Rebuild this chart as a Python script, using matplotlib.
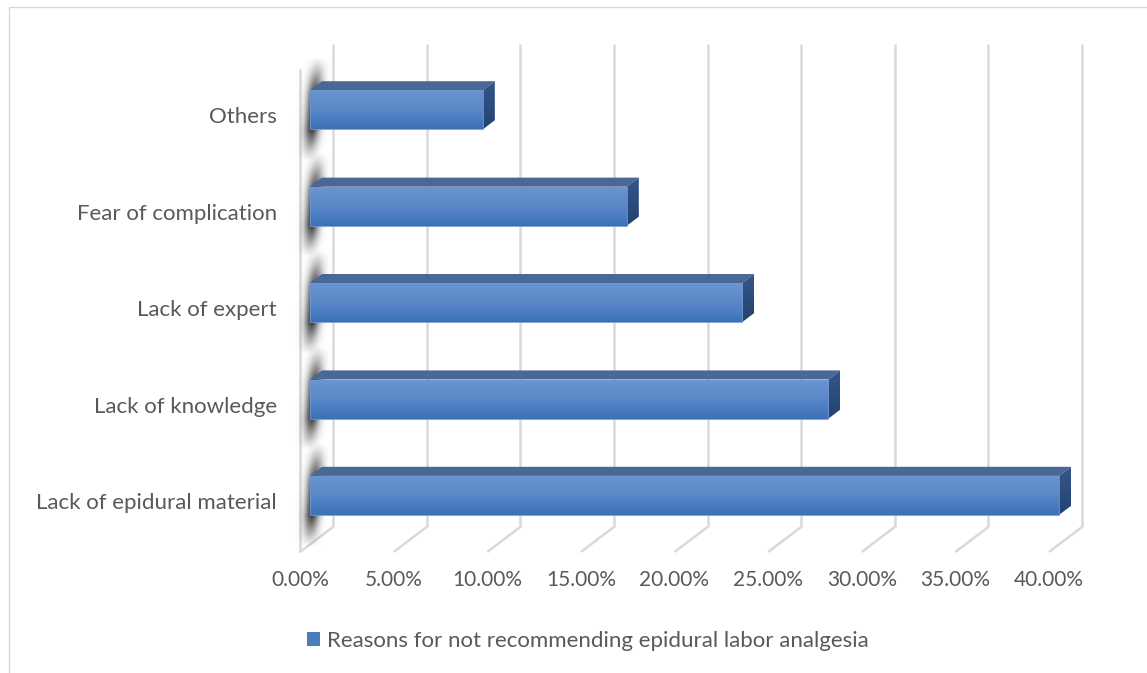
import matplotlib
matplotlib.use("Agg")
import matplotlib.pyplot as plt
import numpy as np
from matplotlib.patches import Polygon, Patch, Rectangle
from matplotlib.colors import LinearSegmentedColormap

# data, bottom bar first
categories = ["Lack of epidural material", "Lack of knowledge", "Lack of expert",
              "Fear of complication", "Others"]
shares = [40.00, 27.69, 23.08, 16.92, 9.23]
ticks = [0, 5, 10, 15, 20, 25, 30, 35, 40]
tick_labels = ["0.00%", "5.00%", "10.00%", "15.00%", "20.00%",
               "25.00%", "30.00%", "35.00%", "40.00%"]
series_name = "Reasons for not recommending epidural labor analgesia"

W, H = 1147, 673
PX_X = 18.725          # pixels per percentage point
PX_Y = 96.4            # pixels between categories
X0_PX, Y0_PX = 300, 503  # pixel of (0 %, first category) on the front plane

# oblique 3-D: full depth of the plot box, as a shift in data units
DX = 33 / PX_X
DY = 25 / PX_Y
FLOOR, TOP = -0.508, 4.502
BAR_T0, BAR_T1 = 10 / 33, 22 / 33
HALF = 0.2025

TEXT = "#595959"
GRID = "#d9d9d9"
plt.rcParams["font.family"] = ["Lato", "DejaVu Sans"]


def proj(v, y, t):
    return v + t * DX, y + t * DY


fig = plt.figure(figsize=(W / 100, H / 100), dpi=100)
ax = fig.add_axes([0, 0, 1, 1])
ax.axis("off")

# chart area border
fig.add_artist(Rectangle((9 / W, -0.1), 1.2, 1.1 - 7 / H, transform=fig.transFigure,
                         fill=False, edgecolor=GRID, linewidth=1.0))

# back wall gridlines and floor lines
for t in ticks:
    xb, yb = proj(t, FLOOR, 1)
    xt, yt = proj(t, TOP, 1)
    ax.plot([xb, xt], [yb, yt], color=GRID, lw=1.8, solid_capstyle="butt", zorder=1)
    xf, yf = proj(t, FLOOR, 0)
    ax.plot([xf, xb], [yf, yb], color=GRID, lw=1.8, solid_capstyle="butt", zorder=1)
# front edge of the side wall
xf0, yf0 = proj(0, FLOOR, 0)
xt0, yt0 = proj(0, TOP, 0)
ax.plot([xf0, xt0], [yf0, yt0], color=GRID, lw=1.8, solid_capstyle="butt", zorder=1)

# soft shadows cast on the side wall
xs = np.linspace(288, 342, 90)
for i in range(len(categories)):
    top_px = Y0_PX - (i + HALF) * PX_Y - 40
    bot_px = Y0_PX - (i - HALF) * PX_Y + 24
    ys = np.linspace(top_px, bot_px, 160)
    u = (ys - top_px) / (bot_px - top_px)
    centre = 309 + 9 * (1 - u)
    gx = np.exp(-((xs[None, :] - centre[:, None]) / 7.5) ** 2)
    gy = np.clip(np.minimum(u / 0.35, (1 - u) / 0.3), 0, 1) ** 1.1
    alpha = gx * gy[:, None] * 0.92
    img = np.zeros((len(ys), len(xs), 4))
    img[..., :3] = 0.18
    img[..., 3] = alpha
    ax.imshow(img, extent=[(288 - X0_PX) / PX_X, (342 - X0_PX) / PX_X,
                           (Y0_PX - bot_px) / PX_Y, (Y0_PX - top_px) / PX_Y],
              aspect="auto", interpolation="bilinear", zorder=2)

front_cmap = LinearSegmentedColormap.from_list("front", ["#3c71b7", "#5a88c9", "#6b95d1"])
side_cmap = LinearSegmentedColormap.from_list("side", ["#24426e", "#34578a"])
grad = np.linspace(0, 1, 64).reshape(-1, 1)

for i, v in enumerate(shares):
    y0, y1 = i - HALF, i + HALF
    # top face
    top = Polygon([proj(0, y1, BAR_T0), proj(v, y1, BAR_T0),
                   proj(v, y1, BAR_T1), proj(0, y1, BAR_T1)],
                  closed=True, facecolor="#4a6896", edgecolor="none", zorder=3)
    ax.add_patch(top)
    # right end face
    side = Polygon([proj(v, y0, BAR_T0), proj(v, y1, BAR_T0),
                    proj(v, y1, BAR_T1), proj(v, y0, BAR_T1)],
                   closed=True, facecolor="none", edgecolor="none", zorder=3)
    ax.add_patch(side)
    sx = [proj(v, y0, BAR_T0)[0], proj(v, y1, BAR_T1)[0]]
    sy = [proj(v, y0, BAR_T0)[1], proj(v, y1, BAR_T1)[1]]
    im = ax.imshow(grad, cmap=side_cmap, extent=[sx[0], sx[1], sy[0], sy[1]],
                   origin="lower", aspect="auto", zorder=3)
    im.set_clip_path(side)
    # front face
    fx0, fy0 = proj(0, y0, BAR_T0)
    fx1, fy1 = proj(v, y1, BAR_T0)
    front = Rectangle((fx0, fy0), fx1 - fx0, fy1 - fy0, facecolor="none",
                      edgecolor="#6f97cf", linewidth=0.6, zorder=4)
    ax.add_patch(front)
    im = ax.imshow(grad, cmap=front_cmap, extent=[fx0, fx1, fy0, fy1],
                   origin="lower", aspect="auto", zorder=3.5)
    im.set_clip_path(front)

# category labels
for i, name in enumerate(categories):
    ax.text(-23 / PX_X, i, name, ha="right", va="center", fontsize=16, color=TEXT)

# value axis labels
for t, lab in zip(ticks, tick_labels):
    ax.text(t, FLOOR - 28 / PX_Y, lab, ha="center", va="center", fontsize=15, color=TEXT)

ax.set_xlim(-X0_PX / PX_X, (W - X0_PX) / PX_X)
ax.set_ylim(-(H - Y0_PX) / PX_Y, Y0_PX / PX_Y)

fig.legend(handles=[Patch(facecolor="#4a7ebb", edgecolor="none", label=series_name)],
           loc="center", bbox_to_anchor=(588 / W, 1 - 641 / H), frameon=False,
           fontsize=16, labelcolor=TEXT, handlelength=0.6, handleheight=0.6,
           handletextpad=0.3, borderaxespad=0, borderpad=0)

fig.savefig("out.png", dpi=100)
